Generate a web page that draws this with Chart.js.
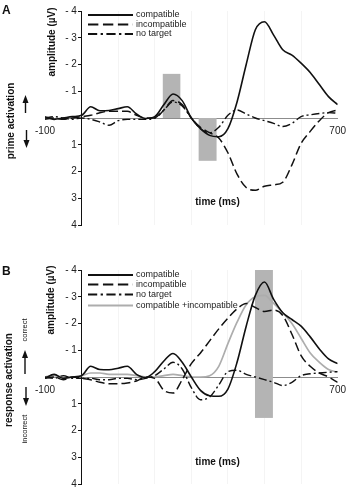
<!DOCTYPE html>
<html><head><meta charset="utf-8">
<script src="https://cdn.jsdelivr.net/npm/chart.js@4"></script>
<style>
html,body{margin:0;padding:0;background:#fff;}
#wrap{position:relative;width:353px;height:495px;overflow:hidden;}
.pnl{position:absolute;left:0;width:353px;}
</style></head>
<body><div id="wrap">
<div class="pnl" style="top:0;height:248px"><canvas id="cA"></canvas></div>
<div class="pnl" style="top:248px;height:247px"><canvas id="cB"></canvas></div>
</div>
<script>
// ---- data ----
const times = [-100,-75,-50,-25,0,25,50,75,100,125,150,175,200,225,250,275,300,325,350,375,400,425,450,475,500,525,550,575,600,625,650,675,700];
const xTickLabels = [-100, 700];
const yTickValues = [-4,-3,-2,-1,0,1,2,3,4];

const aCompatible   = [-0.05,0.05,0,-0.05,-0.1,-0.42,-0.27,-0.28,-0.35,-0.42,-0.15,0.02,-0.05,-0.5,-0.9,-0.65,0,0.4,0.65,0.7,0.4,-0.6,-2.0,-3.3,-3.6,-3.1,-2.55,-2.35,-2.05,-1.7,-1.25,-0.8,-0.5];
const aIncompatible = [0.05,0,0.05,0,-0.05,-0.1,-0.2,-0.25,-0.25,-0.25,-0.1,0,0,-0.3,-0.65,-0.5,0,0.35,0.55,0.75,1.3,2.1,2.6,2.7,2.55,2.5,2.4,1.75,0.95,0.5,0.1,-0.2,-0.3];
const aNoTarget     = [0,-0.05,0,0.05,0,0.05,0.15,0.27,0.1,0.05,0.05,0.05,0,-0.3,-0.6,-0.45,0,0.4,0.55,0.35,-0.1,-0.3,-0.15,0,0.1,0.2,0.32,0.2,-0.05,-0.12,-0.17,-0.2,-0.18];

const bCompatible   = [0.05,-0.1,0.05,0,-0.05,-0.4,-0.28,-0.27,-0.33,-0.4,-0.1,0.02,-0.2,-0.6,-0.88,-0.55,0,0.5,0.7,0.72,0.45,-0.55,-1.9,-3.05,-3.55,-2.9,-2.4,-2.15,-1.9,-1.5,-1.05,-0.68,-0.5];
const bIncompatible = [0.05,0,0.1,0,0.05,0.1,0.2,0.25,0.25,0.22,0.15,0,0.05,0.5,0.6,0.1,-0.5,-0.9,-1.35,-1.8,-2.2,-2.55,-2.75,-2.6,-2.45,-2.5,-2.3,-1.6,-0.8,-0.4,-0.15,0,0.2];
const bNoTarget     = [0,0.05,-0.05,0.05,0.05,0.05,0.1,0.1,0.05,0.05,0.1,0.05,-0.05,-0.3,-0.55,-0.3,0.4,0.85,0.75,0.3,-0.2,-0.25,-0.1,0,0.1,0.2,0.32,0.2,-0.05,-0.12,-0.15,-0.18,-0.2];
const bCombined     = [0,-0.05,0,0,-0.05,-0.15,-0.15,-0.1,-0.1,-0.1,-0.05,0,0,-0.05,-0.1,-0.05,0,0,-0.05,-0.4,-1.25,-2.05,-2.7,-3.0,-3.05,-2.75,-2.4,-2.0,-1.45,-0.9,-0.55,-0.28,-0.18];

// time windows (ms) and amplitude ranges (µV) of the shaded boxes
const aBoxes = [{t0:222,t1:270,v0:-1.65,v1:0},{t0:320,t1:369,v0:0,v1:1.6}];
const bBoxes = [{t0:474,t1:523,v0:-4,v1:1.53}];

const labelsA = ['compatible','incompatible','no target'];
const labelsB = ['compatible','incompatible','no target','compatible +incompatible'];

// ---- styles ----
const FAM = '"Liberation Sans", Arial, Helvetica, sans-serif';
const STY = {
  solid:  {color:'#111', width:1.6, dash:[]},
  dashed: {color:'#111', width:1.5, dash:[9,4]},
  dashdot:{color:'#111', width:1.4, dash:[8,3,2,3]},
  gray:   {color:'#adadad', width:1.7, dash:[]}
};

function ds(label, values, st, order){
  return {label, data: times.map((t,i)=>({x:t,y:values[i]})), borderColor: st.color,
    borderWidth: st.width, borderDash: st.dash, pointRadius:0, fill:false,
    cubicInterpolationMode:'monotone', order};
}

function vText(ctx, txt, cx, cy, font){
  ctx.save(); ctx.translate(cx, cy); ctx.rotate(-Math.PI/2);
  ctx.font = font; ctx.fillStyle = '#111'; ctx.textAlign='center'; ctx.textBaseline='middle';
  ctx.fillText(txt, 0, 0); ctx.restore();
}
function arrow(ctx, x, yTail, yHead){
  const d = yHead < yTail ? 1 : -1;
  ctx.save(); ctx.strokeStyle='#111'; ctx.fillStyle='#111'; ctx.lineWidth=1.4;
  ctx.beginPath(); ctx.moveTo(x, yTail); ctx.lineTo(x, yHead + 5*d); ctx.stroke();
  ctx.beginPath(); ctx.moveTo(x, yHead); ctx.lineTo(x-3, yHead+8*d); ctx.lineTo(x+3, yHead+8*d); ctx.closePath(); ctx.fill();
  ctx.restore();
}

function makeChart(id, datasets, boxes, legend, ann){
  const boxPlugin = {
    id:'boxes',
    beforeDatasetsDraw(chart){
      const {ctx, scales:{x, y}} = chart;
      ctx.save(); ctx.fillStyle = '#b4b4b4';
      boxes.forEach(b=>{
        const x0 = x.getPixelForValue(b.t0), x1 = x.getPixelForValue(b.t1);
        const y0 = y.getPixelForValue(b.v0), y1 = y.getPixelForValue(b.v1);
        ctx.fillRect(Math.min(x0,x1), Math.min(y0,y1), Math.abs(x1-x0), Math.abs(y1-y0));
      });
      ctx.restore();
    }
  };
  const annPlugin = {
    id:'ann',
    afterDraw(chart){
      const ctx = chart.ctx;
      // legend
      legend.items.forEach((it, i)=>{
        const yy = legend.y[i];
        ctx.save(); ctx.strokeStyle = it.st.color; ctx.lineWidth = it.st.width + 0.4;
        ctx.setLineDash(it.st.dash.map(v=>v*1.15));
        ctx.beginPath(); ctx.moveTo(88, yy); ctx.lineTo(133, yy); ctx.stroke(); ctx.restore();
        ctx.save(); ctx.font = '9px ' + FAM; ctx.fillStyle='#222'; ctx.textBaseline='middle'; ctx.textAlign='left';
        ctx.fillText(it.label, 136, yy); ctx.restore();
      });
      // panel letter
      ctx.save(); ctx.font = 'bold 12px ' + FAM; ctx.fillStyle='#111'; ctx.textBaseline='alphabetic';
      ctx.fillText(ann.letter, 2, ann.letterY); ctx.restore();
      vText(ctx, 'amplitude (\u00b5V)', ann.ampX, ann.ampY, 'bold 10px ' + FAM);
      vText(ctx, ann.act, ann.actX, ann.actY, 'bold 10px ' + FAM);
      if (ann.up) { vText(ctx, ann.up, 24.5, ann.upY, '7.5px ' + FAM); }
      if (ann.down) { vText(ctx, ann.down, 24.5, ann.downY, '7.5px ' + FAM); }
      arrow(ctx, ann.arX, ann.ar1[0], ann.ar1[1]);
      arrow(ctx, ann.arX + 1, ann.ar2[0], ann.ar2[1]);
      ctx.save(); ctx.font = 'bold 10px ' + FAM; ctx.fillStyle='#111'; ctx.textAlign='center'; ctx.textBaseline='middle';
      ctx.fillText('time (ms)', 217.5, ann.timeY); ctx.restore();
    }
  };
  return new Chart(document.getElementById(id), {
    type:'line',
    data:{datasets},
    options:{
      responsive:true, maintainAspectRatio:false, animation:false,
      layout:{padding:ann.padding},
      plugins:{legend:{display:false}, tooltip:{enabled:false}},
      scales:{
        x:{type:'linear', min:-100, max:700, position:{y:0},
          afterFit(s){ s.height = 0; },
          afterBuildTicks(s){ s.ticks = [-100,0,100,200,300,400,500,600,700].map(v=>({value:v})); },
          grid:{display:true, drawTicks:false, lineWidth:1,
            color:(c)=> (c.tick && (c.tick.value===-100 || c.tick.value===0 || c.tick.value===700)) ? 'rgba(0,0,0,0)' : 'rgba(0,0,0,0.045)'},
          border:{display:true, color:'#8c8c8c', width:1},
          ticks:{autoSkip:false, maxRotation:0, padding:7, color:'#222', font:{size:10, family:FAM},
            callback:(v)=> xTickLabels.includes(v) ? String(v) : ''}
        },
        y:{type:'linear', min:-4, max:4, reverse:true, position:{x:0},
          afterFit(s){ s.width = 0; },
          afterBuildTicks(s){ s.ticks = yTickValues.map(v=>({value:v})); },
          grid:{display:true, drawOnChartArea:false, drawTicks:true, tickLength:3, color:'#111'},
          border:{display:true, color:'#111', width:1},
          ticks:{padding:4, color:'#222', font:{size:10, family:FAM},
            callback:(v)=> (v<0 ? '- ' + Math.abs(v) : (v>0 ? String(v) : '')) + (v!==0 ? ' \u2009' : '')}
        }
      }
    },
    plugins:[boxPlugin, annPlugin]
  });
}

makeChart('cA', [
  ds(labelsA[0], aCompatible, STY.solid, 1),
  ds(labelsA[1], aIncompatible, STY.dashed, 2),
  ds(labelsA[2], aNoTarget, STY.dashdot, 3)
], aBoxes,
{items:[{label:labelsA[0],st:STY.solid},{label:labelsA[1],st:STY.dashed},{label:labelsA[2],st:STY.dashdot}], y:[15,24.5,34]},
{letter:'A', letterY:14, ampX:52.5, ampY:42, act:'prime activation', actX:11, actY:121,
 arX:25.5, ar1:[113,95], ar2:[130,148], timeY:202, padding:{left:45, right:11, top:11, bottom:23}});

makeChart('cB', [
  ds(labelsB[0], bCompatible, STY.solid, 1),
  ds(labelsB[1], bIncompatible, STY.dashed, 2),
  ds(labelsB[2], bNoTarget, STY.dashdot, 3),
  ds(labelsB[3], bCombined, STY.gray, 4)
], bBoxes,
{items:[{label:labelsB[0],st:STY.solid},{label:labelsB[1],st:STY.dashed},{label:labelsB[2],st:STY.dashdot},{label:labelsB[3],st:STY.gray}], y:[27,36.5,46.5,57.5]},
{letter:'B', letterY:27, ampX:51, ampY:52, act:'response activation', actX:9, actY:132,
 up:'correct', upY:82, down:'incorrect', downY:181,
 arX:25, ar1:[126,102], ar2:[139,158], timeY:214, padding:{left:45, right:11, top:22, bottom:11}});
</script>
</body></html>
